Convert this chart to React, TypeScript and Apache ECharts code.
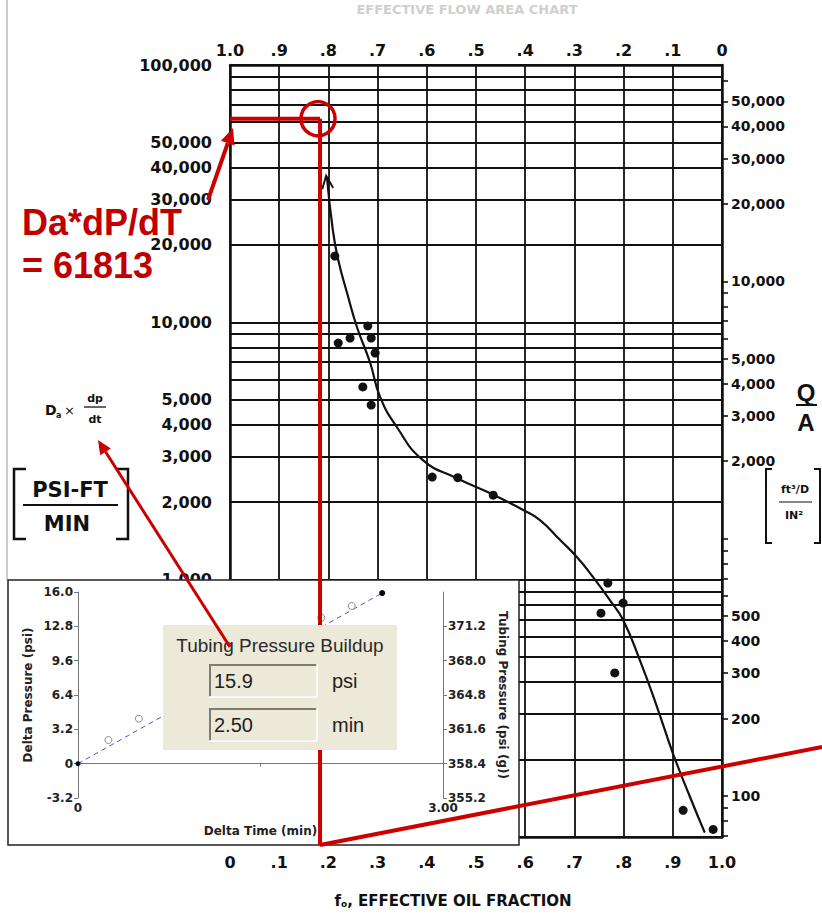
import React, { useEffect, useRef } from 'react';
import * as echarts from 'echarts';

// ---------- Main chart (log scale, Da x dp/dt vs effective oil fraction) ----------
const leftLabelValues = [1000, 2000, 3000, 4000, 5000, 10000, 20000, 30000, 40000, 50000, 100000];
const logGridValues = [100, 200, 300, 400, 500, 600, 700, 800, 900, 1000, 2000, 3000, 4000, 5000, 6000, 7000, 8000, 9000,
  10000, 20000, 30000, 40000, 50000, 60000, 70000, 80000, 90000, 100000];
const rightLabelValues = [100, 200, 300, 400, 500, 2000, 3000, 4000, 5000, 10000, 20000, 30000, 40000, 50000];
const rightTickValues = [70, 80, 90, 100, 200, 300, 400, 500, 600, 700, 800, 900, 1000, 2000, 3000, 4000, 5000, 6000,
  7000, 8000, 9000, 10000, 20000, 30000, 40000, 50000, 60000];
const qaFactor = 0.693; // Q/A scale relative to Da*dp/dt scale

const curveFo = [0.197, 0.209, 0.220, 0.238, 0.258, 0.285, 0.305, 0.339, 0.392, 0.461, 0.528, 0.596, 0.630, 0.671,
  0.705, 0.738, 0.772, 0.799, 0.833, 0.868, 0.900, 0.935, 0.965];
const curveDaDpDt = [36700, 22850, 17460, 13000, 9590, 6950, 5130, 3920, 2915, 2480, 2170, 1865, 1705, 1425,
  1225, 1023, 833, 697, 487, 320, 212, 143, 104];

const pointFo = [0.213, 0.220, 0.244, 0.280, 0.287, 0.295, 0.270, 0.287, 0.411, 0.463, 0.535, 0.768, 0.754, 0.799, 0.782, 0.921, 0.982];
const pointDaDpDt = [18100, 8310, 8690, 9680, 8690, 7600, 5610, 4770, 2505, 2490, 2130, 970, 741, 811, 434, 127, 107];

const readingFo = 0.183;
const readingDaDpDt = 61813;

// ---------- Inset chart (tubing pressure buildup) ----------
const insetTime = [0.25, 0.5, 2.0, 2.25];
const insetDeltaP = [2.2, 4.2, 13.6, 14.7];
const buildupTime = 2.5;
const buildupDeltaP = 15.9;
const tubingBase = 358.4;

const L10 = (v: number) => Math.log10(v);
const fmtLog = (v: number) => Math.round(Math.pow(10, v)).toLocaleString('en-US');
const fmtFrac = (v: number) => {
  const k = Math.round(v * 10);
  if (k === 0) return '0';
  if (k === 10) return '1.0';
  return '.' + k;
};

const INK = '#111';
const mainFont = { fontFamily: 'DejaVu Sans', fontWeight: 'bold' as const, color: INK };
const insetFont = { fontFamily: 'DejaVu Sans', fontWeight: 'bold' as const, color: '#222', fontSize: 12 };
const RED = '#cc0000';

function buildOption() {
  return {
    animation: false,
    backgroundColor: '#fff',
    grid: [
      { left: 230, right: 100, top: 65, bottom: 76, outerBoundsMode: 'none' },
      { left: 78, right: 379, top: 592, bottom: 115, outerBoundsMode: 'none' },
    ],
    xAxis: [
      {
        type: 'value', gridIndex: 0, position: 'bottom', min: 0, max: 1, interval: 0.1,
        axisLine: { show: true, lineStyle: { color: INK, width: 2.5 } },
        axisTick: { show: false },
        axisLabel: { ...mainFont, fontSize: 16, margin: 17, formatter: fmtFrac },
        splitLine: { show: true, lineStyle: { color: INK, width: 1.8 } },
      },
      {
        type: 'value', gridIndex: 0, position: 'top', inverse: true, min: 0, max: 1, interval: 0.1,
        axisLine: { show: true, lineStyle: { color: INK, width: 2.5 } },
        axisTick: { show: false },
        axisLabel: { ...mainFont, fontSize: 16, margin: 7, formatter: fmtFrac },
        splitLine: { show: false },
      },
      {
        type: 'value', gridIndex: 1, min: 0, max: 3, interval: 1.5, zlevel: 1, z: 5,
        name: 'Delta Time (min)', nameLocation: 'middle', nameGap: 27,
        nameTextStyle: { ...insetFont },
        axisLine: { show: true, lineStyle: { color: '#777', width: 1 } },
        axisTick: { show: true, length: 3, lineStyle: { color: '#777' } },
        axisLabel: { ...insetFont, margin: 4, formatter: (v: number) => (v === 0 ? '0' : v === 3 ? '3.00' : '') },
        splitLine: { show: false },
      },
    ],
    yAxis: [
      {
        type: 'value', gridIndex: 0, position: 'left', min: 2, max: 5,
        axisLine: { show: true, lineStyle: { color: INK, width: 2.5 } },
        axisTick: { show: false, customValues: logGridValues.map(L10) },
        axisLabel: { ...mainFont, fontSize: 16, margin: 18, customValues: leftLabelValues.map(L10), formatter: fmtLog },
        splitLine: { show: true, lineStyle: { color: INK, width: 1.8 } },
      },
      {
        type: 'value', gridIndex: 0, position: 'right', min: 2 + L10(qaFactor), max: 5 + L10(qaFactor),
        axisLine: { show: true, lineStyle: { color: INK, width: 2.5 } },
        axisTick: { show: true, inside: false, length: 6, customValues: rightTickValues.map(L10), lineStyle: { color: INK, width: 1.6 } },
        axisLabel: { ...mainFont, fontSize: 14, margin: 9, customValues: rightLabelValues.map(L10), formatter: fmtLog },
        splitLine: { show: false },
      },
      {
        type: 'value', gridIndex: 1, position: 'left', min: -3.2, max: 16, interval: 3.2, zlevel: 1, z: 5,
        name: 'Delta Pressure (psi)', nameLocation: 'middle', nameGap: 44,
        nameTextStyle: { ...insetFont },
        axisLine: { show: true, lineStyle: { color: '#777', width: 1 } },
        axisTick: { show: true, length: 4, lineStyle: { color: '#777' } },
        axisLabel: { ...insetFont, margin: 5, formatter: (v: number) => (Math.abs(v) < 1e-9 ? '0' : v.toFixed(1)) },
        splitLine: { show: false },
      },
      {
        type: 'value', gridIndex: 1, position: 'right', min: tubingBase - 3.2, max: tubingBase + 16, interval: 3.2, zlevel: 1, z: 5,
        name: 'Tubing Pressure (psi (g))', nameLocation: 'middle', nameGap: 54, nameRotate: -90,
        nameTextStyle: { ...insetFont },
        axisLine: { show: true, lineStyle: { color: '#777', width: 1 } },
        axisTick: { show: true, length: 4, lineStyle: { color: '#777' } },
        axisLabel: { ...insetFont, margin: 5, showMaxLabel: false, formatter: (v: number) => v.toFixed(1) },
        splitLine: { show: false },
      },
    ],
    series: [
      {
        name: 'Correlation', type: 'line', xAxisIndex: 0, yAxisIndex: 0, smooth: 0.5, symbol: 'none', z: 3,
        lineStyle: { color: INK, width: 2.2 },
        data: curveFo.map((f, i) => [f, L10(curveDaDpDt[i])]),
      },
      {
        name: 'Arrow', type: 'scatter', xAxisIndex: 0, yAxisIndex: 0, z: 4,
        symbol: 'path://M0,12 L6,0 L12,12', symbolSize: [11, 13], symbolOffset: [0, 5], symbolRotate: 7,
        itemStyle: { color: 'rgba(0,0,0,0)', borderColor: INK, borderWidth: 2, opacity: 1 },
        data: [[curveFo[0], L10(curveDaDpDt[0])]],
      },
      {
        name: 'Field data', type: 'scatter', xAxisIndex: 0, yAxisIndex: 0, z: 4,
        symbol: 'circle', symbolSize: 9, itemStyle: { color: INK, opacity: 1 },
        data: pointFo.map((f, i) => [f, L10(pointDaDpDt[i])]),
      },
      {
        name: 'Fit', type: 'line', xAxisIndex: 2, yAxisIndex: 2, zlevel: 1, z: 6, symbol: 'none',
        lineStyle: { color: '#4b55d4', width: 1, type: [5, 4] },
        data: [[0, 0], [buildupTime, buildupDeltaP]],
        markLine: {
          silent: true, symbol: 'none', label: { show: false },
          lineStyle: { type: [2, 2], color: '#555', width: 1 },
          data: [{ yAxis: 0 }],
        },
      },
      {
        name: 'Readings', type: 'scatter', xAxisIndex: 2, yAxisIndex: 2, zlevel: 1, z: 7,
        symbol: 'circle', symbolSize: 7,
        itemStyle: { color: '#fff', borderColor: '#8a8a8a', borderWidth: 1, opacity: 1 },
        data: insetTime.map((t, i) => [t, insetDeltaP[i]]),
      },
      {
        name: 'Endpoints', type: 'scatter', xAxisIndex: 2, yAxisIndex: 2, zlevel: 1, z: 7,
        symbol: 'circle', itemStyle: { color: '#000', opacity: 1 },
        data: [{ value: [0, 0], symbolSize: 5 }, { value: [buildupTime, buildupDeltaP], symbolSize: 6 }],
      },
    ],
  };
}

function txt(text: string, x: number, y: number, size: number, opts: any = {}) {
  const align = opts.align || 'left';
  const valign = opts.valign || 'middle';
  return {
    type: 'text', x, y, zlevel: opts.zlevel || 0, z: opts.z || 50, rotation: opts.rotation || 0,
    style: {
      text, fill: opts.fill || INK, fontSize: size, fontWeight: opts.weight || 'bold',
      fontFamily: opts.family || 'DejaVu Sans',
      align, verticalAlign: valign, textAlign: align, textVerticalAlign: valign,
      rich: opts.rich,
    },
  };
}

function seg(x1: number, y1: number, x2: number, y2: number, color: string, w: number, zlevel = 0, z = 50) {
  return { type: 'line', zlevel, z, shape: { x1, y1, x2, y2 }, style: { stroke: color, lineWidth: w } };
}

function arrow(x1: number, y1: number, x2: number, y2: number, color: string, w: number, head: number, zlevel = 0, z = 50) {
  const ang = Math.atan2(y2 - y1, x2 - x1);
  const bx = x2 - head * Math.cos(ang);
  const by = y2 - head * Math.sin(ang);
  const hw = head * 0.45;
  const px = -Math.sin(ang) * hw;
  const py = Math.cos(ang) * hw;
  return [
    seg(x1, y1, bx, by, color, w, zlevel, z),
    { type: 'polygon', zlevel, z, shape: { points: [[x2, y2], [bx + px, by + py], [bx - px, by - py]] }, style: { fill: color } },
  ];
}

function buildGraphics(p: number[], axisLeft: number[]) {
  const insetBottom = 845;
  const els: any[] = [];
  // outer slide frame and faint header
  els.push(seg(7, 0, 7, 580, '#9a9a9a', 1, 0, 1));
  els.push(txt('EFFECTIVE FLOW AREA CHART', 467, 9, 13, { align: 'center', fill: '#cfcfcf', z: 1 }));

  // left axis title
  els.push(txt('D', 45, 410, 14));
  els.push(txt('a', 56, 415, 8));
  els.push(txt('×', 64, 410, 13, { weight: 'normal' }));
  els.push(txt('dp', 95, 398, 11, { align: 'center' }));
  els.push(seg(84, 407, 106, 407, INK, 1.3));
  els.push(txt('dt', 95, 419, 11, { align: 'center' }));
  // [PSI-FT / MIN]
  els.push({ type: 'polyline', zlevel: 0, z: 50, shape: { points: [[26, 469], [14, 469], [14, 539], [26, 539]] }, style: { stroke: INK, lineWidth: 2.5, fill: null } });
  els.push({ type: 'polyline', zlevel: 0, z: 50, shape: { points: [[116, 469], [128, 469], [128, 539], [116, 539]] }, style: { stroke: INK, lineWidth: 2.5, fill: null } });
  els.push(txt('PSI-FT', 70, 490, 21, { align: 'center' }));
  els.push(seg(23, 505, 118, 505, INK, 2));
  els.push(txt('MIN', 67, 524, 21, { align: 'center' }));

  // right axis title Q/A and [ft3/D / IN2]
  els.push(txt('Q', 806, 392, 24, { align: 'center', family: 'Liberation Sans' }));
  els.push(seg(796, 405, 817, 405, INK, 2));
  els.push(txt('A', 806, 422, 24, { align: 'center', family: 'Liberation Sans' }));
  els.push({ type: 'polyline', zlevel: 0, z: 50, shape: { points: [[772, 469], [766, 469], [766, 543], [772, 543]] }, style: { stroke: INK, lineWidth: 2, fill: null } });
  els.push({ type: 'polyline', zlevel: 0, z: 50, shape: { points: [[814, 469], [820, 469], [820, 543], [814, 543]] }, style: { stroke: INK, lineWidth: 2, fill: null } });
  els.push(txt('ft³/D', 795, 489, 11, { align: 'center' }));
  els.push(seg(779, 502, 812, 502, INK, 1.2));
  els.push(txt('IN²', 794, 515, 11, { align: 'center' }));

  // bottom axis title
  els.push(txt('f{s|o}, EFFECTIVE OIL FRACTION', 453, 901, 15, {
    align: 'center',
    rich: { s: { fontSize: 9, fontFamily: 'DejaVu Sans', fontWeight: 'bold', fill: INK, verticalAlign: 'bottom', padding: [6, 0, 0, 0] } },
  }));

  // red reading annotation on the main chart
  els.push(txt('Da*dP/dT', 22, 222, 36, { family: 'Liberation Sans', fill: '#c00000', z: 60 }));
  els.push(txt('= ' + String(readingDaDpDt), 22, 265, 36, { family: 'Liberation Sans', fill: '#c00000', z: 60 }));
  els.push(...arrow(208, 200, 233, 128, RED, 4, 16, 0, 60));
  els.push(seg(axisLeft[0], p[1], p[0], p[1], RED, 4, 0, 60));
  els.push({ type: 'circle', zlevel: 0, z: 60, shape: { cx: p[0] - 2, cy: p[1], r: 17 }, style: { stroke: RED, lineWidth: 3.5, fill: null } });

  // inset panel
  els.push({ type: 'rect', zlevel: 1, z: 1, shape: { x: 8, y: 580, width: 511, height: 265 }, style: { fill: '#fff', stroke: '#222', lineWidth: 1.5 } });
  els.push(seg(p[0], p[1], p[0], insetBottom, RED, 4, 1, 10));
  els.push(seg(p[0], insetBottom, 822, 747, RED, 4, 1, 10));

  // text box
  const bx = 163, by = 625;
  els.push({ type: 'rect', zlevel: 1, z: 20, shape: { x: bx, y: by, width: 234, height: 125 }, style: { fill: '#ECE9D8' } });
  els.push(txt('Tubing Pressure Buildup', 280, 645, 19, { align: 'center', family: 'Liberation Sans', weight: 'normal', fill: '#2b2b2b', zlevel: 1, z: 21 }));
  const fields = [
    { y: 664, value: buildupDeltaP.toFixed(1), unit: 'psi' },
    { y: 708, value: buildupTime.toFixed(2), unit: 'min' },
  ];
  fields.forEach((f) => {
    const x0 = 209, x1 = 317, y0 = f.y, y1 = f.y + 33;
    els.push(seg(x0, y0 + 1, x1, y0 + 1, '#7d7b72', 2, 1, 21));
    els.push(seg(x0 + 1, y0, x0 + 1, y1, '#7d7b72', 2, 1, 21));
    els.push(seg(x0, y1, x1, y1, '#ffffff', 1.5, 1, 21));
    els.push(seg(x1, y0, x1, y1, '#ffffff', 1.5, 1, 21));
    els.push(txt(f.value, 214, (y0 + y1) / 2, 20, { family: 'Liberation Sans', weight: 'normal', fill: '#222', zlevel: 1, z: 22 }));
    els.push(txt(f.unit, 332, (y0 + y1) / 2, 20, { family: 'Liberation Sans', weight: 'normal', fill: '#222', zlevel: 1, z: 22 }));
  });

  // red arrow from text box to the left axis title
  els.push(...arrow(230, 647, 98, 440, RED, 3, 14, 1, 30));
  return els;
}

export default function App() {
  const ref = useRef<HTMLDivElement>(null);
  useEffect(() => {
    if (!ref.current) return;
    const chart = echarts.init(ref.current, null, { renderer: 'svg' });
    chart.setOption(buildOption() as any);
    const p = chart.convertToPixel({ gridIndex: 0 }, [readingFo, L10(readingDaDpDt)]) as number[];
    const axisLeft = chart.convertToPixel({ gridIndex: 0 }, [0, L10(readingDaDpDt)]) as number[];
    chart.setOption({ graphic: { elements: buildGraphics(p, axisLeft) } } as any);
    return () => chart.dispose();
  }, []);
  return <div ref={ref} style={{ position: 'fixed', left: 0, top: 0, width: 822, height: 913, background: '#fff' }} />;
}
